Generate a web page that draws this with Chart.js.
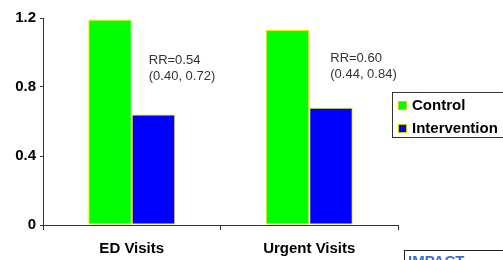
<!DOCTYPE html>
<html>
<head>
<meta charset="utf-8">
<script src="https://cdn.jsdelivr.net/npm/chart.js@4/dist/chart.umd.min.js"></script>
<style>
  html, body { margin: 0; padding: 0; background: #ffffff; }
  #wrap { width: 503px; height: 260px; position: relative; }
</style>
</head>
<body>
<div id="wrap"><canvas id="c" width="503" height="260"></canvas></div>
<script>
const categories = ["ED Visits", "Urgent Visits"];
const controlValues = [1.19, 1.13];
const interventionValues = [0.64, 0.68];
const seriesNames = ["Control", "Intervention"];
const yTicks = [0, 0.4, 0.8, 1.2];
const rrLabels = [["RR=0.54", "(0.40, 0.72)"], ["RR=0.60", "(0.44, 0.84)"]];

const FONT = "Arial, 'Liberation Sans', sans-serif";

const annotate = {
  id: "annotate",
  afterDatasetsDraw(chart) {
    const ctx = chart.ctx;
    ctx.save();
    // white value labels above bars
    ctx.font = "bold 14px " + FONT;
    ctx.fillStyle = "#ffffff";
    ctx.textAlign = "center";
    ctx.textBaseline = "middle";
    chart.data.datasets.forEach((ds, di) => {
      chart.getDatasetMeta(di).data.forEach((bar, i) => {
        ctx.fillText(ds.data[i].toFixed(2), bar.x, bar.y - 15);
      });
    });
    // RR annotations
    ctx.font = "13px " + FONT;
    ctx.fillStyle = "#333333";
    ctx.textAlign = "left";
    const xs = chart.scales.x;
    const offs = [17, 21];
    const ys = [60, 58];
    rrLabels.forEach((lines, i) => {
      const x = xs.getPixelForValue(i) + offs[i];
      lines.forEach((t, k) => ctx.fillText(t, x, ys[i] + k * 16));
    });
    // custom legend with border
    const lx = 392, ly = 92, lw = 120, lh = 45;
    ctx.fillStyle = "#ffffff";
    ctx.fillRect(lx, ly, lw, lh);
    ctx.strokeStyle = "#333333";
    ctx.lineWidth = 1;
    ctx.strokeRect(lx + 0.5, ly + 0.5, lw, lh);
    ctx.font = "bold 15px " + FONT;
    ctx.textBaseline = "middle";
    chart.data.datasets.forEach((ds, di) => {
      const yy = ly + 13 + di * 23;
      ctx.fillStyle = ds.backgroundColor;
      ctx.fillRect(lx + 6, yy - 4, 9, 9);
      ctx.strokeStyle = "#cccc00";
      ctx.strokeRect(lx + 6.5, yy - 3.5, 8, 8);
      ctx.fillStyle = "#000000";
      ctx.fillText(ds.label, lx + 20, yy + 1);
    });
    // logo fragment bottom right
    ctx.strokeStyle = "#222222";
    ctx.strokeRect(404.5, 250.5, 110, 14);
    ctx.fillStyle = "#3a6fd0";
    ctx.font = "bold 15px " + FONT;
    ctx.textBaseline = "alphabetic";
    ctx.fillText("IMPACT", 408, 266);
    ctx.restore();
  }
};

new Chart(document.getElementById("c"), {
  type: "bar",
  data: {
    labels: categories,
    datasets: [
      { label: seriesNames[0], data: controlValues, backgroundColor: "#00ff00", borderColor: "#e8e800", borderWidth: 1, borderSkipped: false },
      { label: seriesNames[1], data: interventionValues, backgroundColor: "#0000ff", borderColor: "#e8e800", borderWidth: 1, borderSkipped: false }
    ]
  },
  options: {
    responsive: false,
    animation: false,
    devicePixelRatio: 1,
    layout: { padding: { left: 0, right: 105, top: 18, bottom: 0 } },
    plugins: {
      legend: { display: false },
      tooltip: { enabled: false }
    },
    datasets: { bar: { categoryPercentage: 0.49, barPercentage: 1.0 } },
    scales: {
      x: {
        offset: true,
        grid: { drawOnChartArea: false, drawTicks: true, tickLength: 5, color: "#333333", offset: true },
        border: { color: "#333333", width: 1 },
        ticks: { color: "#000000", font: { family: FONT, size: 15, weight: "bold" }, padding: 10 },
        afterFit(s) { s.height = 35; }
      },
      y: {
        min: 0, max: 1.2,
        afterBuildTicks(s) { s.ticks = yTicks.map(v => ({ value: v })); },
        grid: { drawOnChartArea: false, drawTicks: true, tickLength: 3, color: "#333333" },
        border: { color: "#333333", width: 1 },
        ticks: { color: "#000000", font: { family: FONT, size: 15, weight: "bold" }, padding: 4,
          callback: v => (v === 0 ? "0" : v.toFixed(1)) },
        afterFit(s) { s.width = 43; }
      }
    }
  },
  plugins: [annotate]
});
</script>
</body>
</html>
